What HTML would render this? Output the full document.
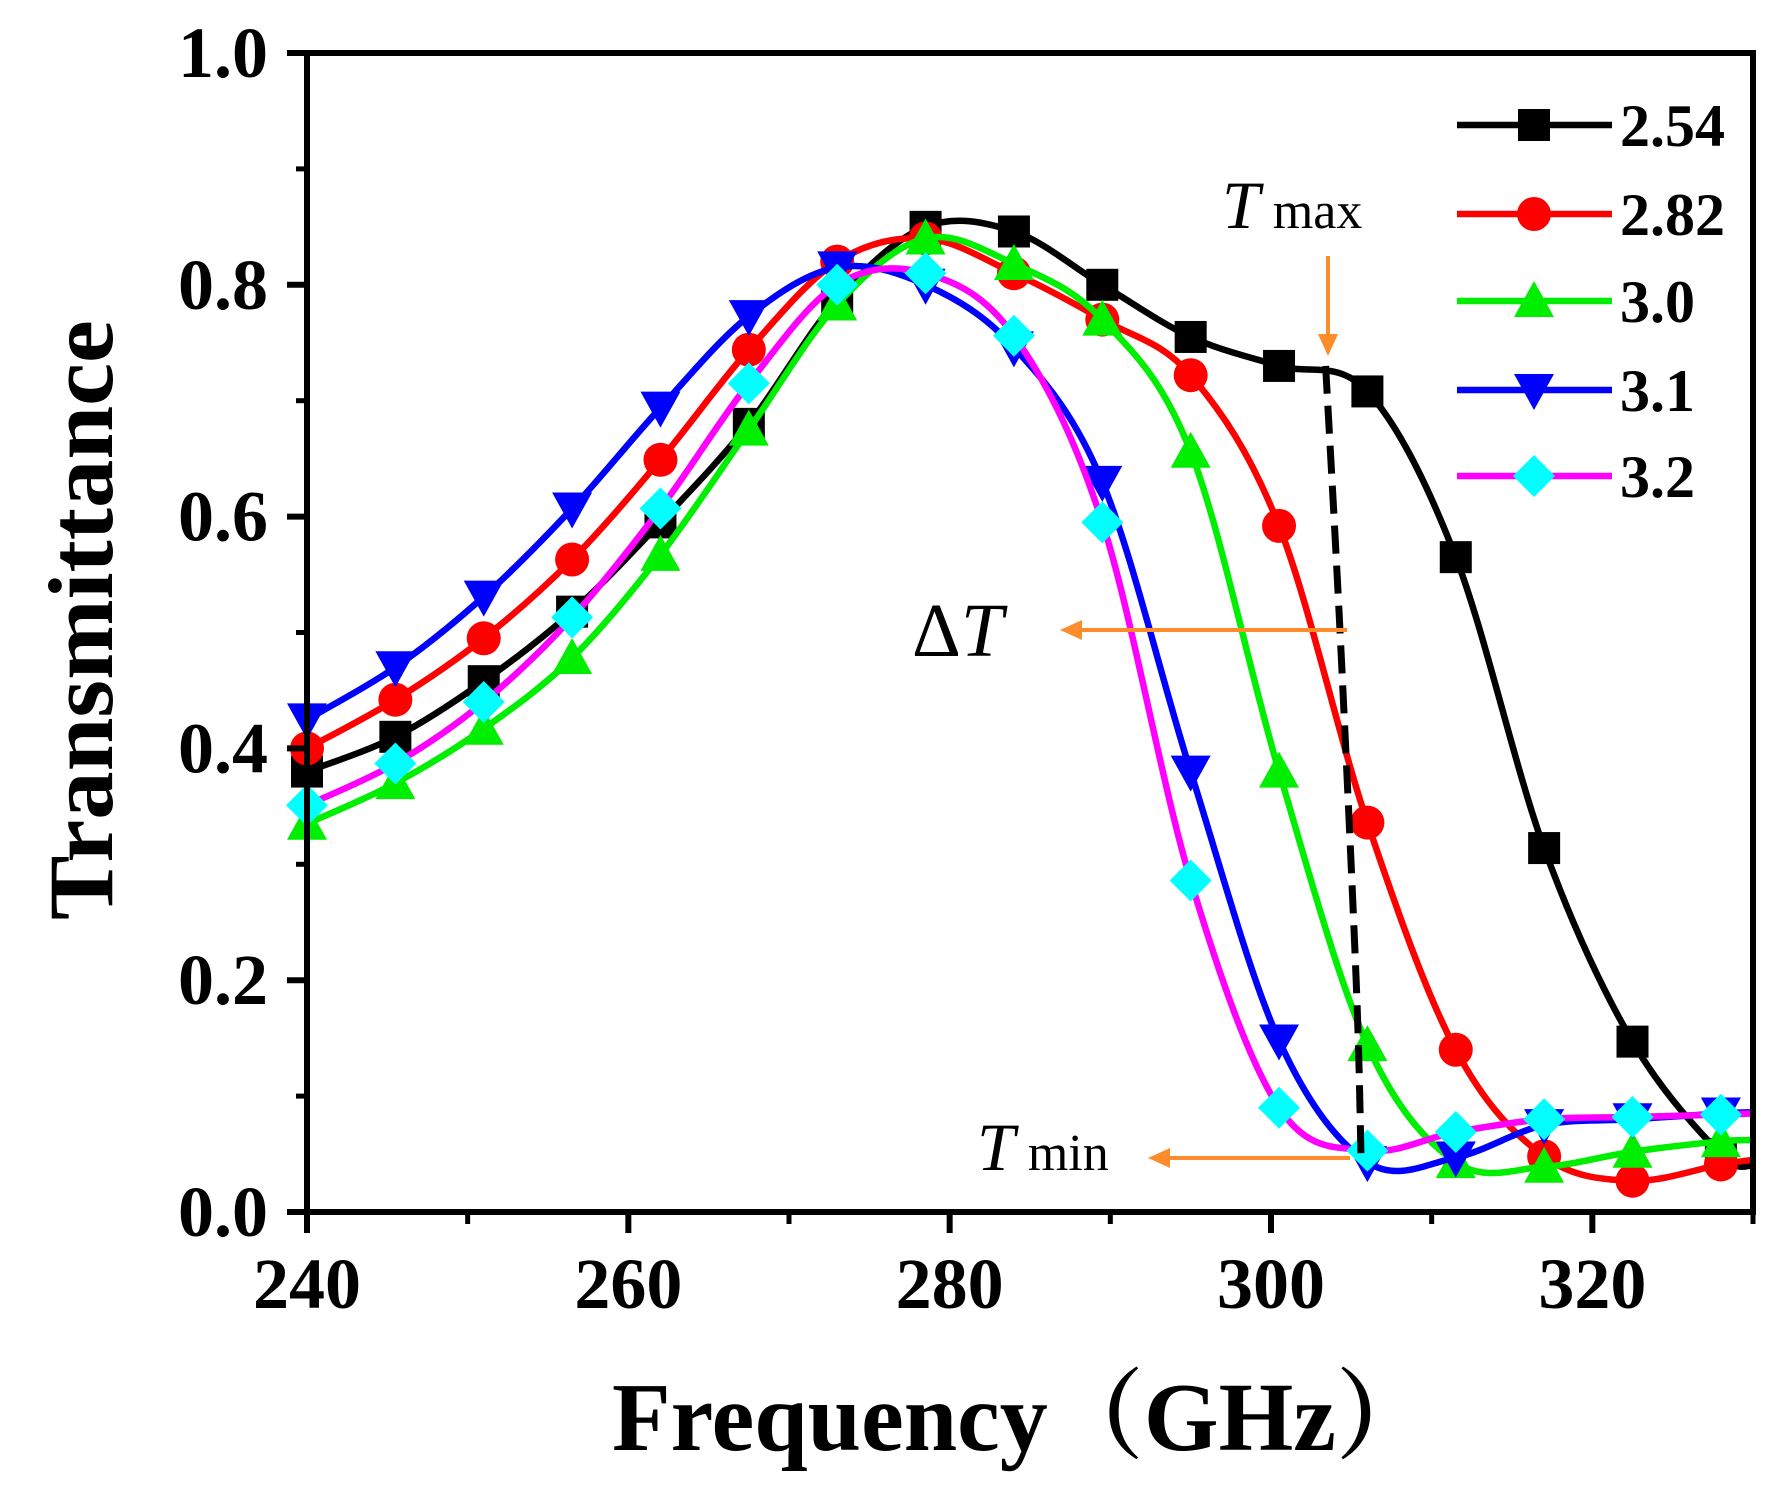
<!DOCTYPE html>
<html><head><meta charset="utf-8">
<style>
html,body{margin:0;padding:0;background:#fff;}
svg{display:block;font-family:"Liberation Serif",serif;}
</style></head>
<body>
<svg id="chart" width="1784" height="1503" viewBox="0 0 1784 1503" xmlns="http://www.w3.org/2000/svg">
<g id="plot"></g>
<g id="axes"></g>
<g id="legend"></g>
<g id="annot"></g>
</svg>
<script>
const xTicks = [240, 260, 280, 300, 320];
const yTicks = [0.0, 0.2, 0.4, 0.6, 0.8, 1.0];
const yTickLabels = ["0.0", "0.2", "0.4", "0.6", "0.8", "1.0"];
const freqs = [240, 245.5, 251, 256.5, 262, 267.5, 273, 278.5, 284, 289.5, 295, 300.5, 306, 311.5, 317, 322.5, 328];
const seriesNames = ["2.54", "2.82", "3.0", "3.1", "3.2"];
const s254 = [0.38, 0.41, 0.458, 0.518, 0.595, 0.68, 0.787, 0.85, 0.846, 0.80, 0.755, 0.73, 0.708, 0.565, 0.314, 0.147, 0.05];
const s282 = [0.40, 0.442, 0.495, 0.563, 0.649, 0.744, 0.82, 0.84, 0.81, 0.77, 0.722, 0.592, 0.336, 0.14, 0.048, 0.027, 0.041];
const s30  = [0.335, 0.37, 0.417, 0.478, 0.567, 0.675, 0.783, 0.84, 0.818, 0.77, 0.656, 0.38, 0.144, 0.043, 0.039, 0.052, 0.061];
const s31  = [0.425, 0.47, 0.531, 0.607, 0.694, 0.773, 0.815, 0.80, 0.746, 0.63, 0.38, 0.148, 0.043, 0.047, 0.075, 0.08, 0.085];
const s32  = [0.351, 0.387, 0.44, 0.513, 0.607, 0.715, 0.80, 0.81, 0.756, 0.595, 0.286, 0.09, 0.053, 0.069, 0.08, 0.082, 0.084];
const endVals = [0.04, 0.045, 0.062, 0.086, 0.085];
const dashX = [303.4, 304.3, 305.3, 305.6];
const dashY = [0.73, 0.5, 0.2, 0.05];

const X0=307, X1=1753, Y0=1212, Y1=53;
const xS = v => X0 + (v-240)/(330-240)*(X1-X0);
const yS = v => Y0 - v*(Y0-Y1);
const NS="http://www.w3.org/2000/svg";
function mk(tag, attrs, parent){const e=document.createElementNS(NS,tag);for(const k in attrs)e.setAttribute(k,attrs[k]);parent.appendChild(e);return e;}
const plot=document.getElementById('plot'), axes=document.getElementById('axes'), legend=document.getElementById('legend'), annot=document.getElementById('annot');

function spline(pts){
  let d=`M${pts[0][0]},${pts[0][1]}`;
  for(let i=0;i<pts.length-1;i++){
    const p0=pts[Math.max(0,i-1)],p1=pts[i],p2=pts[i+1],p3=pts[Math.min(pts.length-1,i+2)];
    const c1=[p1[0]+(p2[0]-p0[0])/6,p1[1]+(p2[1]-p0[1])/6];
    const c2=[p2[0]-(p3[0]-p1[0])/6,p2[1]-(p3[1]-p1[1])/6];
    d+=` C${c1[0]},${c1[1]} ${c2[0]},${c2[1]} ${p2[0]},${p2[1]}`;
  }
  return d;
}
function marker(type,x,y,color,parent){
  const r=16;let e;
  if(type==='square') e=mk('rect',{x:x-r,y:y-r,width:2*r,height:2*r,fill:color},parent);
  else if(type==='circle') e=mk('circle',{cx:x,cy:y,r:r+1,fill:color},parent);
  else if(type==='up') e=mk('polygon',{points:`${x},${y-r-4} ${x-r-4},${y+r} ${x+r+4},${y+r}`,fill:color},parent);
  else if(type==='down') e=mk('polygon',{points:`${x},${y+r+4} ${x-r-4},${y-r} ${x+r+4},${y-r}`,fill:color},parent);
  else e=mk('polygon',{points:`${x},${y-r-5} ${x+r+5},${y} ${x},${y+r+5} ${x-r-5},${y}`,fill:color},parent);
  return e;
}
const allSeries=[s254,s282,s30,s31,s32];
const lineColors=["#000000","#ff0000","#00ee00","#0000ff","#ff00ff"];
const markColors=["#000000","#ff0000","#00ee00","#0000ff","#00ffff"];
const mtypes=["square","circle","up","down","diamond"];

const cp=mk('clipPath',{id:'clip'},plot);
mk('rect',{x:X0,y:Y1,width:X1-X0,height:Y0-Y1},cp);

allSeries.forEach((s,i)=>{
  const g=mk('g',{},plot);
  
  
  const pts=freqs.map((f,k)=>[xS(f),yS(s[k])]);
  pts.push([xS(330),yS(endVals[i])]);
  const p=mk('path',{d:spline(pts),fill:'none',stroke:lineColors[i],'stroke-width':6.5,'clip-path':'url(#clip)'},g);
  
  
  freqs.forEach((f,k)=>{
    const m=marker(mtypes[i],xS(f),yS(s[k]),markColors[i],g);
    
    
  });
});

const dp=mk('path',{d:spline(dashX.map((v,k)=>[xS(v),yS(dashY[k])])),fill:'none',stroke:'#000','stroke-width':7,'stroke-dasharray':'28 12'},annot);



const fr=mk('rect',{x:X0,y:Y1,width:X1-X0,height:Y0-Y1,fill:'none',stroke:'#000','stroke-width':6},axes);


yTicks.forEach((t,i)=>{
  const y=yS(t);
  const tk=mk('line',{x1:X0-20,x2:X0,y1:y,y2:y,stroke:'#000','stroke-width':6},axes);
  
  
  const tx=mk('text',{x:268,y:y+24,'text-anchor':'end','font-size':72,'font-weight':'bold'},axes);
  tx.textContent=yTickLabels[i];
  
  
  if(i<yTicks.length-1){
    const m=mk('line',{x1:X0-11,x2:X0,y1:yS(t+0.1),y2:yS(t+0.1),stroke:'#000','stroke-width':5},axes);
    
    
  }
});
xTicks.forEach(t=>{
  const x=xS(t);
  const tk=mk('line',{x1:x,x2:x,y1:Y0,y2:Y0+21,stroke:'#000','stroke-width':6},axes);
  
  
  const tx=mk('text',{x:x,y:1308,'text-anchor':'middle','font-size':72,'font-weight':'bold'},axes);
  tx.textContent=String(t);
  
  
  const m=mk('line',{x1:xS(t+10),x2:xS(t+10),y1:Y0,y2:Y0+12,stroke:'#000','stroke-width':5},axes);
  
  
});
const yt=mk('text',{x:0,y:0,transform:'translate(112,620) rotate(-90)','text-anchor':'middle','font-size':92,'font-weight':'bold',textLength:600,lengthAdjust:'spacingAndGlyphs'},axes);
yt.textContent='Transmittance';


const xt=mk('text',{x:1022,y:1450,'text-anchor':'middle','font-size':98,'font-weight':'bold',textLength:820,lengthAdjust:'spacingAndGlyphs',style:'font-family:"Liberation Serif","Noto Serif CJK SC",serif'},axes);
xt.textContent='Frequency（GHz）';



const legY=[125,214,301,390,476];
seriesNames.forEach((n,i)=>{
  const g=mk('g',{},legend);
  
  
  mk('line',{x1:1457,x2:1612,y1:legY[i],y2:legY[i],stroke:lineColors[i],'stroke-width':6.5},g);
  marker(mtypes[i],1534,legY[i],markColors[i],g);
  const t=mk('text',{x:1620,y:legY[i]+21,'font-size':60,'font-weight':'bold'},g);
  t.textContent=n;
});

const OR='#ff8c2a';
function arrow(x1,y1,x2,y2,name){
  const g=mk('g',{},annot);
  
  
  const dx=x2-x1,dy=y2-y1,L=Math.hypot(dx,dy),ux=dx/L,uy=dy/L;
  const hl=22,hw=10;
  mk('line',{x1:x1,y1:y1,x2:x2-ux*hl*0.8,y2:y2-uy*hl*0.8,stroke:OR,'stroke-width':4},g);
  mk('polygon',{points:`${x2},${y2} ${x2-ux*hl-uy*hw},${y2-uy*hl+ux*hw} ${x2-ux*hl+uy*hw},${y2-uy*hl-ux*hw}`,fill:OR},g);
}
arrow(1328,256,1328,356,'tmax-arrow');
arrow(1347,630,1060,630,'delta-t-arrow');
arrow(1350,1158,1148,1158,'tmin-arrow');
function label(x,y,parts,name){
  const t=mk('text',{x:x,y:y},annot);
  
  
  parts.forEach(p=>{const s=mk('tspan',p[1],t);s.textContent=p[0];});
}
label(1222,228,[['T',{'font-style':'italic','font-size':68}],[' max',{'font-size':52}]],'tmax-label');
label(912,656,[['Δ',{'font-size':76}],['T',{'font-style':'italic','font-size':76}]],'delta-t-label');
label(977,1170,[['T',{'font-style':'italic','font-size':68}],[' min',{'font-size':52}]],'tmin-label');
</script>
</body></html>
